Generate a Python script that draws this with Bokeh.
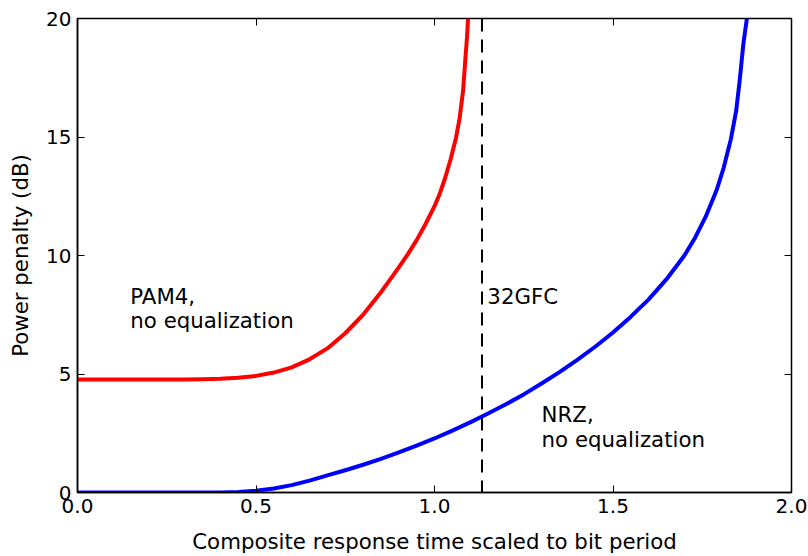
from bokeh.plotting import figure
from bokeh.models import LinearAxis, Span, Range1d, FixedTicker
from bokeh.core.properties import value
from bokeh.embed import file_html
from bokeh.resources import INLINE

# Power penalty vs. composite response time (scaled to bit period)
pam4_x = [0.0, 0.1, 0.2, 0.3, 0.35, 0.4, 0.45, 0.5, 0.55, 0.6, 0.65, 0.7, 0.75,
          0.8, 0.85, 0.875, 0.9, 0.925, 0.95, 0.975, 1.0, 1.015, 1.03, 1.045,
          1.06, 1.07, 1.08, 1.087, 1.091, 1.094]
pam4_y = [4.77, 4.77, 4.77, 4.77, 4.78, 4.8, 4.84, 4.92, 5.06, 5.28, 5.62, 6.08, 6.72,
          7.5, 8.45, 8.97, 9.5, 10.05, 10.65, 11.33, 12.08, 12.62, 13.28, 14.05,
          14.95, 15.75, 16.95, 18.4, 19.2, 20.0]

nrz_x = [0.0, 0.3, 0.4, 0.45, 0.5, 0.55, 0.6, 0.65, 0.7, 0.75, 0.8, 0.85, 0.9, 0.95,
         1.0, 1.05, 1.1, 1.15, 1.2, 1.25, 1.3, 1.35, 1.4, 1.45, 1.5, 1.55, 1.6,
         1.65, 1.7, 1.73, 1.76, 1.79, 1.81, 1.83, 1.845, 1.855, 1.865, 1.875]
nrz_y = [0.0, 0.0, 0.005, 0.025, 0.07, 0.17, 0.31, 0.5, 0.72, 0.94, 1.17, 1.42, 1.69,
         1.98, 2.28, 2.61, 2.96, 3.33, 3.72, 4.14, 4.6, 5.08, 5.6, 6.15, 6.75, 7.42,
         8.15, 9.0, 10.0, 10.75, 11.65, 12.75, 13.7, 14.9, 16.1, 17.4, 18.9, 20.0]

marker_32gfc = 1.133

x_ticks = [0.0, 0.5, 1.0, 1.5, 2.0]
y_ticks = [0, 5, 10, 15, 20]

annotations = [
    (0.148, 8.8, "PAM4,\nno equalization"),
    (1.148, 8.8, "32GFC"),
    (1.30, 3.8, "NRZ,\nno equalization"),
]

FONT = "DejaVu Sans"
TICK_FS = "20px"
FS = "21.3px"

p = figure(width=808, height=556, output_backend="svg", toolbar_location=None,
           x_range=Range1d(0, 2.0), y_range=Range1d(0, 20),
           min_border_left=77, min_border_right=17, min_border_top=18, min_border_bottom=63)

p.grid.visible = False
p.outline_line_color = "black"
p.outline_line_width = 1.5
p.background_fill_color = "white"
p.border_fill_color = "white"

for ax in (p.xaxis[0], p.yaxis[0]):
    ax.major_tick_in = 7
    ax.major_tick_out = 0
    ax.minor_tick_in = 0
    ax.minor_tick_out = 0
    ax.axis_line_color = "black"
    ax.axis_line_width = 1.5
    ax.major_tick_line_color = "black"
    ax.major_label_text_font = FONT
    ax.major_label_text_font_size = TICK_FS
    ax.major_label_text_color = "black"
    ax.axis_label_text_font = FONT
    ax.axis_label_text_font_size = FS
    ax.axis_label_text_font_style = "normal"
    ax.axis_label_text_color = "black"

p.xaxis[0].ticker = FixedTicker(ticks=x_ticks)
p.yaxis[0].ticker = FixedTicker(ticks=y_ticks)
p.xaxis[0].major_label_overrides = {t: f"{t:.1f}" for t in x_ticks}
p.xaxis[0].major_label_standoff = 6
p.yaxis[0].major_label_standoff = 6
p.xaxis[0].axis_label = "Composite response time scaled to bit period"
p.yaxis[0].axis_label = "Power penalty (dB)"
p.xaxis[0].axis_label_standoff = 13
p.yaxis[0].axis_label_standoff = 10

# mirrored tick marks on top and right edges
top = LinearAxis(ticker=FixedTicker(ticks=x_ticks))
right = LinearAxis(ticker=FixedTicker(ticks=y_ticks))
for ax in (top, right):
    ax.major_tick_in = 7
    ax.major_tick_out = 0
    ax.minor_tick_in = 0
    ax.minor_tick_out = 0
    ax.axis_line_color = None
    ax.major_tick_line_color = "black"
    ax.major_label_text_font_size = "0px"
    ax.major_label_standoff = 0
p.add_layout(top, "above")
p.add_layout(right, "right")

p.line(pam4_x, pam4_y, line_color="red", line_width=4, line_join="round")
p.line(nrz_x, nrz_y, line_color="blue", line_width=4, line_join="round")

p.add_layout(Span(location=marker_32gfc, dimension="height", line_color="black",
                  line_width=2, line_dash="13 8"))

p.text(x=[a[0] for a in annotations], y=[a[1] for a in annotations],
       text=[a[2] for a in annotations], text_font=value(FONT), text_font_size=FS,
       text_color="black", text_baseline="top", text_align="left", text_line_height=0.97)

open("out.html", "w").write(file_html(p, INLINE))
